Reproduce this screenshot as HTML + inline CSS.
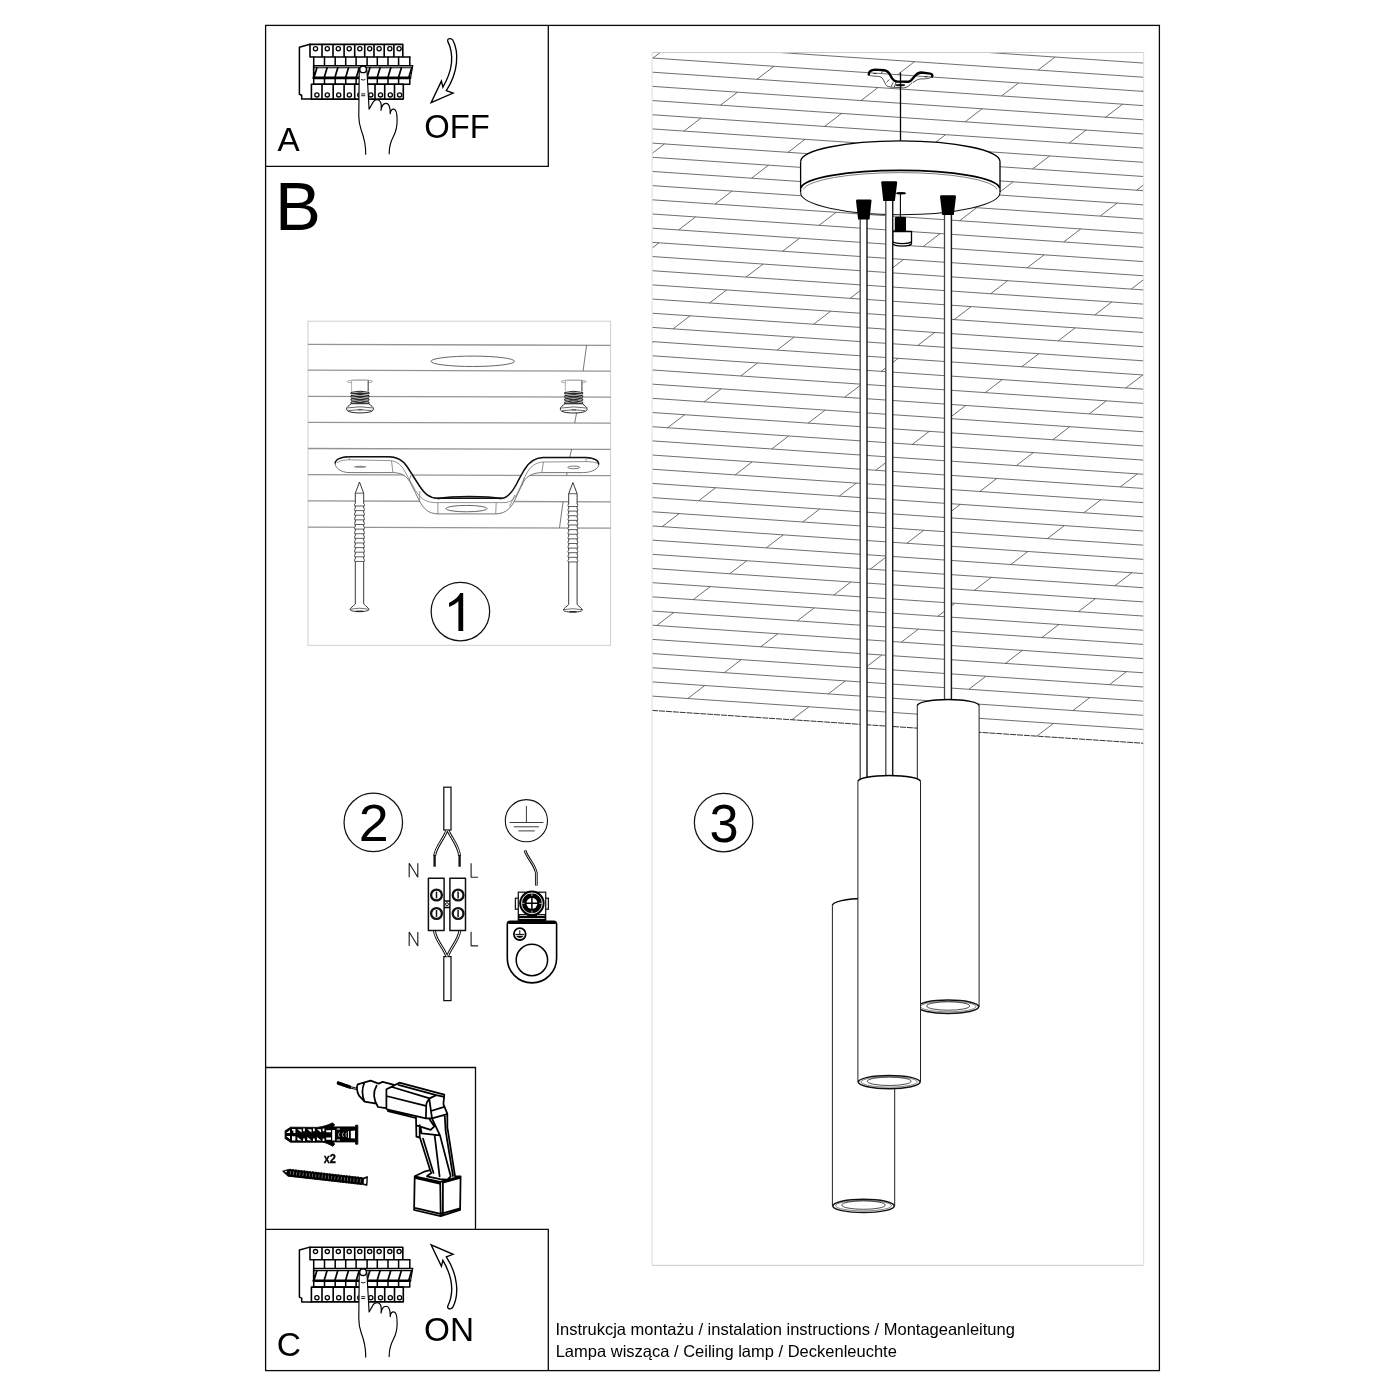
<!DOCTYPE html>
<html><head><meta charset="utf-8"><title>Instrukcja montażu</title>
<style>
html,body{margin:0;padding:0;background:#fff;}
body{width:1400px;height:1400px;overflow:hidden;font-family:"Liberation Sans",sans-serif;}
svg{display:block;filter:grayscale(1);}
</style></head><body>
<svg width="1400" height="1400" viewBox="0 0 1400 1400">
<rect width="1400" height="1400" fill="#fff"/>
<!-- 00_head.py -->
<rect x="265.6" y="25.4" width="893.8" height="1345.2" stroke="#0a0a0a" stroke-width="1.3" fill="none"/>
<path d="M548.3 25.4V166.3H265.6" stroke="#0a0a0a" stroke-width="1.3" fill="none"/>
<path d="M265.6 1067.5H475.5V1229.4" stroke="#0a0a0a" stroke-width="1.3" fill="none"/>
<path d="M265.6 1229.4H548.3V1370.6" stroke="#0a0a0a" stroke-width="1.3" fill="none"/>
<text x="277.4" y="151.3" font-size="34" font-family="Liberation Sans, sans-serif" fill="#000" textLength="22.2" lengthAdjust="spacingAndGlyphs">A</text>
<text x="424.2" y="137.9" font-size="33.4" font-family="Liberation Sans, sans-serif" fill="#000" textLength="65.6" lengthAdjust="spacingAndGlyphs">OFF</text>
<text x="275.1" y="229.7" font-size="68.8" font-family="Liberation Sans, sans-serif" fill="#000">B</text>
<text x="276.7" y="1356.4" font-size="33.6" font-family="Liberation Sans, sans-serif" fill="#000">C</text>
<text x="424.1" y="1340.7" font-size="34" font-family="Liberation Sans, sans-serif" fill="#000" textLength="50" lengthAdjust="spacingAndGlyphs">ON</text>
<text x="555.4" y="1335" font-size="16.5" font-family="Liberation Sans, sans-serif" fill="#000">Instrukcja montażu / instalation instructions / Montageanleitung</text>
<text x="555.7" y="1356.6" font-size="16.5" font-family="Liberation Sans, sans-serif" fill="#000">Lampa wisząca / Ceiling lamp / Deckenleuchte</text>
<circle cx="460.4" cy="611.6" r="29.25" stroke="#111" stroke-width="1.25" fill="none"/>
<circle cx="373.3" cy="822.4" r="29.25" stroke="#111" stroke-width="1.25" fill="none"/>
<circle cx="723.6" cy="822.6" r="29.25" stroke="#111" stroke-width="1.25" fill="none"/>
<path d="M463.2 630.9H458.4V601.2C455.8 603.5 452.6 605.5 449.1 606.9V602.7C454 600.4 458.4 596.8 460.2 592.9H463.2Z" fill="#000"/>
<text x="358.75" y="841.1" font-size="52.2" font-family="Liberation Sans, sans-serif" fill="#000" textLength="29.9" lengthAdjust="spacingAndGlyphs">2</text>
<text x="709.4" y="842.05" font-size="54.3" font-family="Liberation Sans, sans-serif" fill="#000" textLength="29.1" lengthAdjust="spacingAndGlyphs">3</text>
<!-- 10_panel3.py -->
<clipPath id="ceil"><polygon points="652.1,52.5 1143.7,52.5 1143.7,743.3 652.1,710.4"/></clipPath>
<path clip-path="url(#ceil)" d="M652.1 1.28L1143.7 34.71M652.1 15.46L1143.7 48.89M652.1 29.64L1143.7 63.07M652.1 43.82L1143.7 77.25M652.1 58.00L1143.7 91.43M652.1 72.18L1143.7 105.61M652.1 86.36L1143.7 119.79M652.1 100.54L1143.7 133.97M652.1 114.72L1143.7 148.15M652.1 128.90L1143.7 162.33M652.1 143.08L1143.7 176.51M652.1 157.26L1143.7 190.69M652.1 171.44L1143.7 204.87M652.1 185.62L1143.7 219.05M652.1 199.80L1143.7 233.23M652.1 213.98L1143.7 247.41M652.1 228.16L1143.7 261.59M652.1 242.34L1143.7 275.77M652.1 256.52L1143.7 289.95M652.1 270.70L1143.7 304.13M652.1 284.88L1143.7 318.31M652.1 299.06L1143.7 332.49M652.1 313.24L1143.7 346.67M652.1 327.42L1143.7 360.85M652.1 341.60L1143.7 375.03M652.1 355.78L1143.7 389.21M652.1 369.96L1143.7 403.39M652.1 384.14L1143.7 417.57M652.1 398.32L1143.7 431.75M652.1 412.50L1143.7 445.93M652.1 426.68L1143.7 460.11M652.1 440.86L1143.7 474.29M652.1 455.04L1143.7 488.47M652.1 469.22L1143.7 502.65M652.1 483.40L1143.7 516.83M652.1 497.58L1143.7 531.01M652.1 511.76L1143.7 545.19M652.1 525.94L1143.7 559.37M652.1 540.12L1143.7 573.55M652.1 554.30L1143.7 587.73M652.1 568.48L1143.7 601.91M652.1 582.66L1143.7 616.09M652.1 596.84L1143.7 630.27M652.1 611.02L1143.7 644.45M652.1 625.20L1143.7 658.63M652.1 639.38L1143.7 672.81M652.1 653.56L1143.7 686.99M652.1 667.74L1143.7 701.17M652.1 681.92L1143.7 715.35M652.1 696.10L1143.7 729.53M830.00 27.56L847.00 14.53M1074.60 44.19L1091.60 31.17M689.45 32.18L706.45 19.16M934.05 48.81L951.05 35.79M793.50 53.44L810.50 40.41M1038.10 70.07L1055.10 57.04M652.95 58.06L669.95 45.03M897.55 74.69L914.55 61.67M1142.15 91.32L1159.15 78.30M757.00 79.31L774.00 66.29M1001.60 95.95L1018.60 82.92M861.05 100.57L878.05 87.54M1105.65 117.20L1122.65 104.18M720.50 105.19L737.50 92.17M965.10 121.82L982.10 108.80M824.55 126.45L841.55 113.42M1069.15 143.08L1086.15 130.06M684.00 131.07L701.00 118.05M928.60 147.70L945.60 134.68M788.05 152.32L805.05 139.30M1032.65 168.96L1049.65 155.93M647.50 156.95L664.50 143.92M892.10 173.58L909.10 160.56M1136.70 190.21L1153.70 177.19M751.55 178.20L768.55 165.18M996.15 194.84L1013.15 181.81M855.60 199.46L872.60 186.43M1100.20 216.09L1117.20 203.07M715.05 204.08L732.05 191.06M959.65 220.71L976.65 207.69M819.10 225.34L836.10 212.31M1063.70 241.97L1080.70 228.94M678.55 229.96L695.55 216.93M923.15 246.59L940.15 233.57M782.60 251.21L799.60 238.19M1027.20 267.85L1044.20 254.82M642.05 255.84L659.05 242.81M886.65 272.47L903.65 259.45M1131.25 289.10L1148.25 276.08M746.10 277.09L763.10 264.07M990.70 293.72L1007.70 280.70M850.15 298.35L867.15 285.32M1094.75 314.98L1111.75 301.96M709.60 302.97L726.60 289.95M954.20 319.60L971.20 306.58M813.65 324.23L830.65 311.20M1058.25 340.86L1075.25 327.83M673.10 328.85L690.10 315.82M917.70 345.48L934.70 332.46M777.15 350.10L794.15 337.08M1021.75 366.74L1038.75 353.71M636.60 354.73L653.60 341.70M881.20 371.36L898.20 358.33M1125.80 387.99L1142.80 374.97M740.65 375.98L757.65 362.96M985.25 392.61L1002.25 379.59M844.70 397.24L861.70 384.21M1089.30 413.87L1106.30 400.85M704.15 401.86L721.15 388.84M948.75 418.49L965.75 405.47M808.20 423.11L825.20 410.09M1052.80 439.75L1069.80 426.72M667.65 427.74L684.65 414.71M912.25 444.37L929.25 431.35M771.70 448.99L788.70 435.97M1016.30 465.63L1033.30 452.60M875.75 470.25L892.75 457.22M1120.35 486.88L1137.35 473.86M735.20 474.87L752.20 461.85M979.80 491.50L996.80 478.48M839.25 496.13L856.25 483.10M1083.85 512.76L1100.85 499.73M698.70 500.75L715.70 487.72M943.30 517.38L960.30 504.36M802.75 522.00L819.75 508.98M1047.35 538.64L1064.35 525.61M662.20 526.63L679.20 513.60M906.80 543.26L923.80 530.24M766.25 547.88L783.25 534.86M1010.85 564.51L1027.85 551.49M870.30 569.14L887.30 556.11M1114.90 585.77L1131.90 572.75M729.75 573.76L746.75 560.74M974.35 590.39L991.35 577.37M833.80 595.02L850.80 581.99M1078.40 611.65L1095.40 598.62M693.25 599.64L710.25 586.61M937.85 616.27L954.85 603.25M797.30 620.89L814.30 607.87M1041.90 637.53L1058.90 624.50M656.75 625.52L673.75 612.49M901.35 642.15L918.35 629.12M760.80 646.77L777.80 633.75M1005.40 663.40L1022.40 650.38M864.85 668.03L881.85 655.00M1109.45 684.66L1126.45 671.64M724.30 672.65L741.30 659.63M968.90 689.28L985.90 676.26M828.35 693.90L845.35 680.88M1072.95 710.54L1089.95 697.51M687.80 698.53L704.80 685.50M932.40 715.16L949.40 702.14M791.85 719.78L808.85 706.76M1036.45 736.42L1053.45 723.39M651.30 724.41L668.30 711.38M895.90 741.04L912.90 728.01M1140.50 757.67L1157.50 744.65M755.35 745.66L772.35 732.64M999.95 762.29L1016.95 749.27" stroke="#4a4a4a" stroke-width="0.8" fill="none"/>
<path d="M652.1 710.4L1143.7 743.3" stroke="#333" stroke-width="1" stroke-dasharray="6 0.9" fill="none"/>
<path d="M652.1 52.5H1143.7M652.1 1265.3H1143.7" stroke="#cbcbcb" stroke-width="1" fill="none"/>
<path d="M652.1 52.5V1265.3M1143.7 52.5V1265.3" stroke="#dcdcdc" stroke-width="1" fill="none"/>
<!-- 20_lamp.py -->
<path d="M868.8 74.6C868.4 71.5 871.5 69.9 875 69.6L884.3 70.3C888 70.8 889.6 73.5 891 76.4C892.5 79.4 894 81.2 897 81.5L908.5 81.8C911 81.4 912.6 78.6 914.6 76.2C916.6 73.8 918.6 72.6 921.4 72.5L930.2 73.6C932.4 74 932.8 75.4 932 76.6" stroke="#000" stroke-width="2.4" fill="none" stroke-linecap="round" stroke-linejoin="round"/>
<path d="M868.8 74.6C869.6 75.8 872 76 878.6 76.4C882.6 76.6 883.6 80.4 885.7 84.6C887 86.6 889 86.9 892 87.2L903.6 87.9C907 87.6 909.6 85.7 912.1 82.6M932 76.6C930.6 78.4 926 79 921.4 78.9C918 78.8 915.8 80.6 913 82.6M884.3 70.3L881 73.2M889.4 79.6L886.5 82.2M893.2 82.4L891 86.8M896.4 81.4L894.3 87" stroke="#222" stroke-width="0.8" fill="none"/>
<ellipse cx="900.3" cy="85.2" rx="4.8" ry="1.1" fill="#111"/>
<ellipse cx="875" cy="73.5" rx="1.9" ry="0.5" fill="#222"/><ellipse cx="926" cy="76.7" rx="1.9" ry="0.5" fill="#222"/>
<path d="M900.5 72.5V141.2" stroke="#000" stroke-width="1.3"/>
<path d="M800.6 161.4A99.7 20.6 0 0 1 1000 161.4V192.5A99.7 22.2 0 0 1 800.6 192.5Z" fill="#fff" stroke="none"/>
<path d="M800.6 161.6A99.7 20.7 0 0 1 1000 161.6" stroke="#000" stroke-width="1.4" fill="none"/>
<path d="M800.6 161.4V192.6M1000 161.4V192.6" stroke="#000" stroke-width="1.3" fill="none"/>
<path d="M800.6 192.5A99.7 22.2 0 0 0 1000 192.5" stroke="#111" stroke-width="1.1" fill="none"/>
<path d="M800.9 187.9A99.6 18.7 0 0 1 999.7 187.9" stroke="#000" stroke-width="1.7" fill="none"/>
<path d="M803.6 189.3A97 18.1 0 0 1 997 189.3" stroke="#444" stroke-width="0.7" fill="none"/>
<path d="M892.7 231.5H911.5V243.5A9.4 2.6 0 0 1 892.7 243.5Z" fill="#fff" stroke="#000" stroke-width="1.3"/>
<path d="M892.7 241.2A9.4 2.4 0 0 0 911.5 241.2" fill="none" stroke="#000" stroke-width="1.2"/>
<rect x="894.8" y="217" width="11.2" height="14.8" rx="1" fill="#000"/>
<path d="M900.4 193.5V217" stroke="#000" stroke-width="1.1"/>
<ellipse cx="901" cy="193.2" rx="5" ry="1.2" fill="#000"/>
<rect x="944.5" y="205" width="6.899999999999977" height="499" fill="#fff"/><path d="M944.5 205V704" stroke="#444" stroke-width="1.3" fill="none"/><path d="M951.4 205V704" stroke="#1a1a1a" stroke-width="1.45" fill="none"/>
<rect x="860.2" y="210" width="6.7999999999999545" height="571" fill="#fff"/><path d="M860.2 210V781" stroke="#444" stroke-width="1.3" fill="none"/><path d="M867 210V781" stroke="#1a1a1a" stroke-width="1.45" fill="none"/>
<path d="M917.3 705.7A30.900000000000034 6.100000000000023 0 0 1 979.1 705.7V1006.8A30.900000000000034 6.8 0 0 1 917.3 1006.8Z" fill="#fff" stroke="none"/><path d="M917.3 705.7V1006.8M979.1 705.7V1006.8" stroke="#222" stroke-width="1" fill="none"/><path d="M917.3 705.7A30.900000000000034 6.100000000000023 0 0 1 979.1 705.7" stroke="#000" stroke-width="1.5" fill="none"/><ellipse cx="948.2" cy="1006.8" rx="30.500000000000036" ry="6.7" stroke="#111" stroke-width="1.5" fill="#fff"/><ellipse cx="948.2" cy="1006.5999999999999" rx="27.700000000000035" ry="5.2" stroke="#333" stroke-width="0.6" fill="none"/><ellipse cx="948.2" cy="1006.0" rx="21.500000000000036" ry="4.2" stroke="#222" stroke-width="0.8" fill="none"/>
<path d="M832.4 905.5A31.150000000000034 6.899999999999977 0 0 1 894.7 905.5V1205.9A31.150000000000034 6.8 0 0 1 832.4 1205.9Z" fill="#fff" stroke="none"/><path d="M832.4 905.5V1205.9M894.7 905.5V1205.9" stroke="#222" stroke-width="1" fill="none"/><path d="M832.4 905.5A31.150000000000034 6.899999999999977 0 0 1 894.7 905.5" stroke="#000" stroke-width="1.5" fill="none"/><ellipse cx="863.55" cy="1205.9" rx="30.750000000000036" ry="6.7" stroke="#111" stroke-width="1.5" fill="#fff"/><ellipse cx="863.55" cy="1205.7" rx="27.950000000000035" ry="5.2" stroke="#333" stroke-width="0.6" fill="none"/><ellipse cx="863.55" cy="1205.1000000000001" rx="21.750000000000036" ry="4.2" stroke="#222" stroke-width="0.8" fill="none"/>
<rect x="885.8" y="195" width="6.900000000000091" height="584" fill="#fff"/><path d="M885.8 195V779" stroke="#444" stroke-width="1.3" fill="none"/><path d="M892.7 195V779" stroke="#1a1a1a" stroke-width="1.45" fill="none"/>
<path d="M857.9 781.6A31.30000000000001 6.2000000000000455 0 0 1 920.5 781.6V1082.1A31.30000000000001 6.8 0 0 1 857.9 1082.1Z" fill="#fff" stroke="none"/><path d="M857.9 781.6V1082.1M920.5 781.6V1082.1" stroke="#222" stroke-width="1" fill="none"/><path d="M857.9 781.6A31.30000000000001 6.2000000000000455 0 0 1 920.5 781.6" stroke="#000" stroke-width="1.5" fill="none"/><ellipse cx="889.2" cy="1082.1" rx="30.900000000000013" ry="6.7" stroke="#111" stroke-width="1.5" fill="#fff"/><ellipse cx="889.2" cy="1081.8999999999999" rx="28.100000000000012" ry="5.2" stroke="#333" stroke-width="0.6" fill="none"/><ellipse cx="889.2" cy="1081.3" rx="21.900000000000013" ry="4.2" stroke="#222" stroke-width="0.8" fill="none"/>
<path d="M856 200.7Q856 199.5 857.5 199.5H870.0Q871.5 199.5 871.5 200.7L869.5 219.5H858.1Z" fill="#000"/>
<path d="M881.2 182.5Q881.2 181.3 882.7 181.3H895.7Q897.2 181.3 897.2 182.5L894.9 201H883.3Z" fill="#000"/>
<path d="M940 196.39999999999998Q940 195.2 941.5 195.2H954.5Q956 195.2 956 196.39999999999998L953.8 215H942.2Z" fill="#000"/>
<!-- 30_breaker.py -->
<g id="brk"><path d="M310 44.3L299.4 47.2L299.4 94.3L301.7 95.3V99.1H311.4" stroke="#000" fill="none" stroke-linejoin="round" stroke-linecap="round" stroke-width="1.5"/><path d="M310 44.4H402.8M310 57H409.8M310 44.4V57M322 44.4V57M333 44.4V57M344.1 44.4V57M354.7 44.4V57M364.7 44.4V57M374 44.4V57M384.2 44.4V57M393.9 44.4V57M402.8 44.4V57" stroke="#000" fill="none" stroke-linejoin="round" stroke-linecap="round" stroke-width="1.6"/><circle cx="315.5" cy="48.8" r="2.1" stroke="#000" fill="none" stroke-linejoin="round" stroke-linecap="round" stroke-width="1.3"/><circle cx="327.3" cy="48.8" r="2.1" stroke="#000" fill="none" stroke-linejoin="round" stroke-linecap="round" stroke-width="1.3"/><circle cx="338.3" cy="48.8" r="2.1" stroke="#000" fill="none" stroke-linejoin="round" stroke-linecap="round" stroke-width="1.3"/><circle cx="349.2" cy="48.8" r="2.1" stroke="#000" fill="none" stroke-linejoin="round" stroke-linecap="round" stroke-width="1.3"/><circle cx="359.8" cy="48.8" r="2.1" stroke="#000" fill="none" stroke-linejoin="round" stroke-linecap="round" stroke-width="1.3"/><circle cx="369.7" cy="48.8" r="2.1" stroke="#000" fill="none" stroke-linejoin="round" stroke-linecap="round" stroke-width="1.3"/><circle cx="379.1" cy="48.8" r="2.1" stroke="#000" fill="none" stroke-linejoin="round" stroke-linecap="round" stroke-width="1.3"/><circle cx="389.8" cy="48.8" r="2.1" stroke="#000" fill="none" stroke-linejoin="round" stroke-linecap="round" stroke-width="1.3"/><circle cx="399.1" cy="48.8" r="2.1" stroke="#000" fill="none" stroke-linejoin="round" stroke-linecap="round" stroke-width="1.3"/><path d="M313.7 65.7H412.6M313.7 57V65.7M324.5 57V65.7M335.2 57V65.7M345.7 57V65.7M356.1 57V65.7M367.1 57V65.7M377.3 57V65.7M388 57V65.7M398.6 57V65.7M409.8 57V65.7" stroke="#000" fill="none" stroke-linejoin="round" stroke-linecap="round" stroke-width="1.5"/><path d="M313.7 67.8H412.4M412.8 65.7L410.6 77.8" stroke="#000" fill="none" stroke-linejoin="round" stroke-linecap="round" stroke-width="1.1"/><path d="M313.7 77.9H410" stroke="#000" fill="none" stroke-linejoin="round" stroke-linecap="round" stroke-width="2.6"/><path d="M316.9 67.8L314.09999999999997 77.2M327.1 67.8L324.3 77.2M337.8 67.8L335.0 77.2M348.5 67.8L345.7 77.2M359.2 67.8L356.4 77.2M369.9 67.8L367.09999999999997 77.2M380.1 67.8L377.3 77.2M390.8 67.8L388.0 77.2M401.4 67.8L398.59999999999997 77.2M411.7 67.8L408.9 77.2M313.7 65.7V77.9" stroke="#000" fill="none" stroke-linejoin="round" stroke-linecap="round" stroke-width="1.7"/><path d="M313.7 84.3H409.8M313.7 78V84.3M324.5 78V84.3M335.2 78V84.3M345.7 78V84.3M356.1 78V84.3M367.1 78V84.3M377.3 78V84.3M388 78V84.3M398.6 78V84.3M409.8 78V84.3" stroke="#000" fill="none" stroke-linejoin="round" stroke-linecap="round" stroke-width="1.5"/><path d="M311.4 99.1H403.3M311.4 84.3H403.3M311.4 84.3V99.1M322 84.3V99.1M333.2 84.3V99.1M344.1 84.3V99.1M354.7 84.3V99.1M365.2 84.3V99.1M375 84.3V99.1M384.7 84.3V99.1M394.5 84.3V99.1M403.3 84.3V99.1" stroke="#000" fill="none" stroke-linejoin="round" stroke-linecap="round" stroke-width="1.6"/><circle cx="316.9" cy="94.9" r="2.1" stroke="#000" fill="none" stroke-linejoin="round" stroke-linecap="round" stroke-width="1.3"/><circle cx="327.3" cy="94.9" r="2.1" stroke="#000" fill="none" stroke-linejoin="round" stroke-linecap="round" stroke-width="1.3"/><circle cx="338.7" cy="94.9" r="2.1" stroke="#000" fill="none" stroke-linejoin="round" stroke-linecap="round" stroke-width="1.3"/><circle cx="349.4" cy="94.9" r="2.1" stroke="#000" fill="none" stroke-linejoin="round" stroke-linecap="round" stroke-width="1.3"/><circle cx="359.8" cy="94.9" r="2.1" stroke="#000" fill="none" stroke-linejoin="round" stroke-linecap="round" stroke-width="1.3"/><circle cx="370.8" cy="94.9" r="2.1" stroke="#000" fill="none" stroke-linejoin="round" stroke-linecap="round" stroke-width="1.3"/><circle cx="380.5" cy="94.9" r="2.1" stroke="#000" fill="none" stroke-linejoin="round" stroke-linecap="round" stroke-width="1.3"/><circle cx="390.3" cy="94.9" r="2.1" stroke="#000" fill="none" stroke-linejoin="round" stroke-linecap="round" stroke-width="1.3"/><circle cx="399.6" cy="94.9" r="2.1" stroke="#000" fill="none" stroke-linejoin="round" stroke-linecap="round" stroke-width="1.3"/><path d="M365.7 154.3C365.9 146 364.2 138 361.2 130C359.2 124.5 358.8 121 358.8 116L359.2 71.5C359.4 68.3 361 66.3 363.1 66.3C365.3 66.3 366.9 68.3 367 71.5L369.1 109.2L373.4 101.6C375.2 99.2 379.2 99 380.6 102.2C381.4 104.2 381.3 107.6 381 110.4C381.6 106.2 383.4 103.4 386 103.4C389 103.4 390.4 107.4 390.2 113.8C390.6 110.6 392 109 393.7 109.1C396.2 109.3 397.1 113.6 397.1 119.4C397.3 126 396 131.5 393.4 136.5C390.6 141.8 389 146.5 389.2 153.8L389.2 156H365.7Z" fill="#fff" stroke="none"/><path d="M365.7 154.3C365.9 146 364.2 138 361.2 130C359.2 124.5 358.8 121 358.8 116L359.2 71.5C359.4 68.3 361 66.3 363.1 66.3C365.3 66.3 366.9 68.3 367 71.5L369.1 109.2L373.4 101.6C375.2 99.2 379.2 99 380.6 102.2C381.4 104.2 381.3 107.6 381 110.4C381.6 106.2 383.4 103.4 386 103.4C389 103.4 390.4 107.4 390.2 113.8C390.6 110.6 392 109 393.7 109.1C396.2 109.3 397.1 113.6 397.1 119.4C397.3 126 396 131.5 393.4 136.5C390.6 141.8 389 146.5 389.2 153.8" stroke="#000" fill="none" stroke-linejoin="round" stroke-linecap="round" stroke-width="1.15"/><circle cx="363.1" cy="69.4" r="3.3" fill="#fff" stroke="#000" stroke-width="1.3"/><path d="M361.3 79.6Q363.2 80.9 365.1 79.6M361.6 93.9H364.8M361.6 95.7H364.8" stroke="#000" fill="none" stroke-linejoin="round" stroke-linecap="round" stroke-width="0.9"/></g>
<use href="#brk" transform="translate(0,1202.8)"/>
<path id="arw" d="M447.7 41.1C447.2 39.2 449 38.4 450.4 38.6C451.8 38.8 452.5 39.4 452.9 40.3C459 52 458.5 72 446.3 90.6L453.1 93.1L431.1 102.6L441.4 81.1L442.9 87.1C454 68 453 52 447.7 41.1Z" fill="#fff" stroke="#000" stroke-width="1.35" stroke-linejoin="miter" stroke-miterlimit="6"/>
<use href="#arw" transform="translate(0,1347.4) scale(1,-1)"/>
<!-- 40_sec1.py -->
<rect x="308.0" y="321.2" width="302.6" height="324.09999999999997" fill="none" stroke="#cfcfcf" stroke-width="1"/>
<path d="M308.0 344.4L610.6 345.29999999999995M308.0 370.2L610.6 371.09999999999997M308.0 396.3L610.6 397.2M308.0 422.3L610.6 423.2M308.0 448.5L610.6 449.4M308.0 474.7L610.6 475.59999999999997M308.0 500.9L610.6 501.79999999999995M308.0 527.2L610.6 528.1" stroke="#949494" stroke-width="1.3" fill="none"/>
<path d="M586.6 345.2L583.1 370.8M576.6 412.8L574.7 423M571.6 449L569.8 457M567.7 467L566.7 475.4M563.1 501.6L559.5 527.8" stroke="#555" stroke-width="0.8" fill="none"/>
<ellipse cx="472.7" cy="361.3" rx="41.8" ry="5.2" fill="#fff" stroke="#555" stroke-width="0.9"/>
<ellipse cx="360.0" cy="381.5" rx="12.7" ry="1.6" fill="#fff" stroke="#8a8a8a" stroke-width="0.7"/><rect x="351.6" y="380.3" width="16.8" height="11" fill="#fff" stroke="none"/><path d="M351.6 391.3V380.3H368.4" fill="none" stroke="#9a9a9a" stroke-width="0.8"/><path d="M368.2 380.3V391.3" fill="none" stroke="#555" stroke-width="1.2"/><path d="M351.0 392.40000000000003Q360.0 390.00000000000006 369.0 392.40000000000003V393.90000000000003Q360.0 391.70000000000005 351.0 393.90000000000003Z" fill="#fff" stroke="#111" stroke-width="0.95"/><path d="M355.5 393.50000000000006H364.5" stroke="#222" stroke-width="1"/><path d="M351.0 395.6Q360.0 393.20000000000005 369.0 395.6V397.1Q360.0 394.90000000000003 351.0 397.1Z" fill="#fff" stroke="#111" stroke-width="0.95"/><path d="M355.5 396.70000000000005H364.5" stroke="#222" stroke-width="1"/><path d="M351.0 398.8Q360.0 396.40000000000003 369.0 398.8V400.3Q360.0 398.1 351.0 400.3Z" fill="#fff" stroke="#111" stroke-width="0.95"/><path d="M355.5 399.90000000000003H364.5" stroke="#222" stroke-width="1"/><path d="M351.0 402.00000000000006Q360.0 399.6000000000001 369.0 402.00000000000006V403.50000000000006Q360.0 401.30000000000007 351.0 403.50000000000006Z" fill="#fff" stroke="#111" stroke-width="0.95"/><path d="M355.5 403.1000000000001H364.5" stroke="#222" stroke-width="1"/><path d="M351.2 403.7C349.0 405.7 346.4 406.9 346.6 409.2C346.8 412.09999999999997 354.0 412.9 360.0 412.9C366.0 412.9 373.2 412.09999999999997 373.4 409.2C373.6 406.9 371.0 405.7 368.8 403.7Z" fill="#fff" stroke="#222" stroke-width="1"/><path d="M347.6 407.9Q360.0 405.7 372.4 407.9M348.4 410.59999999999997Q360.0 408.7 371.6 410.59999999999997" stroke="#444" stroke-width="0.8" fill="none"/><path d="M358.0 409.8H362.4" stroke="#333" stroke-width="0.9"/>
<ellipse cx="573.7" cy="381.59999999999997" rx="12.7" ry="1.6" fill="#fff" stroke="#8a8a8a" stroke-width="0.7"/><rect x="565.3000000000001" y="380.4" width="16.8" height="11" fill="#fff" stroke="none"/><path d="M565.3000000000001 391.4V380.4H582.1" fill="none" stroke="#9a9a9a" stroke-width="0.8"/><path d="M581.9000000000001 380.4V391.4" fill="none" stroke="#555" stroke-width="1.2"/><path d="M564.7 392.5Q573.7 390.1 582.7 392.5V394.0Q573.7 391.8 564.7 394.0Z" fill="#fff" stroke="#111" stroke-width="0.95"/><path d="M569.2 393.6H578.2" stroke="#222" stroke-width="1"/><path d="M564.7 395.7Q573.7 393.3 582.7 395.7V397.2Q573.7 395.0 564.7 397.2Z" fill="#fff" stroke="#111" stroke-width="0.95"/><path d="M569.2 396.8H578.2" stroke="#222" stroke-width="1"/><path d="M564.7 398.9Q573.7 396.5 582.7 398.9V400.4Q573.7 398.2 564.7 400.4Z" fill="#fff" stroke="#111" stroke-width="0.95"/><path d="M569.2 400.0H578.2" stroke="#222" stroke-width="1"/><path d="M564.7 402.1Q573.7 399.70000000000005 582.7 402.1V403.6Q573.7 401.40000000000003 564.7 403.6Z" fill="#fff" stroke="#111" stroke-width="0.95"/><path d="M569.2 403.20000000000005H578.2" stroke="#222" stroke-width="1"/><path d="M564.9000000000001 403.79999999999995C562.7 405.79999999999995 560.1 406.99999999999994 560.3000000000001 409.29999999999995C560.5 412.19999999999993 567.7 412.99999999999994 573.7 412.99999999999994C579.7 412.99999999999994 586.9000000000001 412.19999999999993 587.1 409.29999999999995C587.3000000000001 406.99999999999994 584.7 405.79999999999995 582.5 403.79999999999995Z" fill="#fff" stroke="#222" stroke-width="1"/><path d="M561.3000000000001 407.99999999999994Q573.7 405.79999999999995 586.1 407.99999999999994M562.1 410.69999999999993Q573.7 408.79999999999995 585.3000000000001 410.69999999999993" stroke="#444" stroke-width="0.8" fill="none"/><path d="M571.7 409.9H576.1" stroke="#333" stroke-width="0.9"/>
<path d="M359.5 482.0L355.3 493.2V604.0C353.5 606.0 350.1 608.0 349.9 609.6C351.5 612.4 367.5 612.4 369.1 609.6C368.9 608.0 365.5 606.0 363.7 604.0V493.2Z" fill="#fff" stroke="#222" stroke-width="0.9"/><path d="M355.3 493.2H363.7" stroke="#333" stroke-width="0.8"/><path d="M355.3 503.4Q353.9 504.59999999999997 354.9 506.0H364.1Q365.1 504.59999999999997 363.7 503.4" fill="#fff" stroke="#333" stroke-width="0.8"/><path d="M355.3 508.02Q353.9 509.21999999999997 354.9 510.62H364.1Q365.1 509.21999999999997 363.7 508.02" fill="#fff" stroke="#333" stroke-width="0.8"/><path d="M355.3 512.64Q353.9 513.84 354.9 515.24H364.1Q365.1 513.84 363.7 512.64" fill="#fff" stroke="#333" stroke-width="0.8"/><path d="M355.3 517.26Q353.9 518.46 354.9 519.86H364.1Q365.1 518.46 363.7 517.26" fill="#fff" stroke="#333" stroke-width="0.8"/><path d="M355.3 521.88Q353.9 523.08 354.9 524.48H364.1Q365.1 523.08 363.7 521.88" fill="#fff" stroke="#333" stroke-width="0.8"/><path d="M355.3 526.5Q353.9 527.7 354.9 529.1H364.1Q365.1 527.7 363.7 526.5" fill="#fff" stroke="#333" stroke-width="0.8"/><path d="M355.3 531.12Q353.9 532.32 354.9 533.72H364.1Q365.1 532.32 363.7 531.12" fill="#fff" stroke="#333" stroke-width="0.8"/><path d="M355.3 535.74Q353.9 536.94 354.9 538.34H364.1Q365.1 536.94 363.7 535.74" fill="#fff" stroke="#333" stroke-width="0.8"/><path d="M355.3 540.36Q353.9 541.5600000000001 354.9 542.96H364.1Q365.1 541.5600000000001 363.7 540.36" fill="#fff" stroke="#333" stroke-width="0.8"/><path d="M355.3 544.98Q353.9 546.1800000000001 354.9 547.58H364.1Q365.1 546.1800000000001 363.7 544.98" fill="#fff" stroke="#333" stroke-width="0.8"/><path d="M355.3 549.6Q353.9 550.8000000000001 354.9 552.2H364.1Q365.1 550.8000000000001 363.7 549.6" fill="#fff" stroke="#333" stroke-width="0.8"/><path d="M355.3 554.22Q353.9 555.4200000000001 354.9 556.82H364.1Q365.1 555.4200000000001 363.7 554.22" fill="#fff" stroke="#333" stroke-width="0.8"/><path d="M355.3 558.8399999999999Q353.9 560.04 354.9 561.4399999999999H364.1Q365.1 560.04 363.7 558.8399999999999" fill="#fff" stroke="#333" stroke-width="0.8"/><path d="M350.3 609.2Q359.5 607.2 368.7 609.2" stroke="#333" stroke-width="0.7" fill="none"/><path d="M355.9 611.2H363.1" stroke="#111" stroke-width="1.1"/>
<path d="M572.9 482.5L568.6999999999999 493.7V604.5C566.9 606.5 563.5 608.5 563.3 610.1C564.9 612.9 580.9 612.9 582.5 610.1C582.3 608.5 578.9 606.5 577.1 604.5V493.7Z" fill="#fff" stroke="#222" stroke-width="0.9"/><path d="M568.6999999999999 493.7H577.1" stroke="#333" stroke-width="0.8"/><path d="M568.6999999999999 503.9Q567.3 505.09999999999997 568.3 506.5H577.5Q578.5 505.09999999999997 577.1 503.9" fill="#fff" stroke="#333" stroke-width="0.8"/><path d="M568.6999999999999 508.52Q567.3 509.71999999999997 568.3 511.12H577.5Q578.5 509.71999999999997 577.1 508.52" fill="#fff" stroke="#333" stroke-width="0.8"/><path d="M568.6999999999999 513.14Q567.3 514.34 568.3 515.74H577.5Q578.5 514.34 577.1 513.14" fill="#fff" stroke="#333" stroke-width="0.8"/><path d="M568.6999999999999 517.76Q567.3 518.96 568.3 520.36H577.5Q578.5 518.96 577.1 517.76" fill="#fff" stroke="#333" stroke-width="0.8"/><path d="M568.6999999999999 522.38Q567.3 523.58 568.3 524.98H577.5Q578.5 523.58 577.1 522.38" fill="#fff" stroke="#333" stroke-width="0.8"/><path d="M568.6999999999999 527.0Q567.3 528.2 568.3 529.6H577.5Q578.5 528.2 577.1 527.0" fill="#fff" stroke="#333" stroke-width="0.8"/><path d="M568.6999999999999 531.62Q567.3 532.82 568.3 534.22H577.5Q578.5 532.82 577.1 531.62" fill="#fff" stroke="#333" stroke-width="0.8"/><path d="M568.6999999999999 536.24Q567.3 537.44 568.3 538.84H577.5Q578.5 537.44 577.1 536.24" fill="#fff" stroke="#333" stroke-width="0.8"/><path d="M568.6999999999999 540.86Q567.3 542.0600000000001 568.3 543.46H577.5Q578.5 542.0600000000001 577.1 540.86" fill="#fff" stroke="#333" stroke-width="0.8"/><path d="M568.6999999999999 545.48Q567.3 546.6800000000001 568.3 548.08H577.5Q578.5 546.6800000000001 577.1 545.48" fill="#fff" stroke="#333" stroke-width="0.8"/><path d="M568.6999999999999 550.1Q567.3 551.3000000000001 568.3 552.7H577.5Q578.5 551.3000000000001 577.1 550.1" fill="#fff" stroke="#333" stroke-width="0.8"/><path d="M568.6999999999999 554.72Q567.3 555.9200000000001 568.3 557.32H577.5Q578.5 555.9200000000001 577.1 554.72" fill="#fff" stroke="#333" stroke-width="0.8"/><path d="M568.6999999999999 559.3399999999999Q567.3 560.54 568.3 561.9399999999999H577.5Q578.5 560.54 577.1 559.3399999999999" fill="#fff" stroke="#333" stroke-width="0.8"/><path d="M563.6999999999999 609.7Q572.9 607.7 582.1 609.7" stroke="#333" stroke-width="0.7" fill="none"/><path d="M569.3 611.7H576.5" stroke="#111" stroke-width="1.1"/>
<path d="M335.2 463.4C335.2 459.4 341 456.9 349 456.7L389 456.7C397.5 456.9 402.5 459.5 407 466.5L419.5 486C424.5 493.5 429 498 437.5 498.3L501.5 498.3C508.5 498 513.5 490.5 518.2 480.7L524.5 469.5C529.5 461.5 535 457.8 543 457.6L585.7 457.6C593.5 458 598.7 460.5 598.7 464.5C598.7 469 591.5 472.4 583.5 472.6L541.8 472.6C533.5 472.8 527.5 475.5 523.6 481.5L516.2 497C512.8 505 508 513.7 495.7 513.9L438 513.9C428 513.6 423.5 508.5 419.6 501.1L410 482C406 475.5 401.5 472.8 392.9 472.6L349 472.6C341 472.4 335.2 468 335.2 463.4Z" fill="#fff" stroke="#666" stroke-width="0.9"/>
<path d="M335.2 463.4C335.2 459.4 341 456.9 349 456.7L389 456.7C397.5 456.9 402.5 459.5 407 466.5L419.5 486C424.5 493.5 429 498 437.5 498.3L501.5 498.3C508.5 498 513.5 490.5 518.2 480.7L524.5 469.5C529.5 461.5 535 457.8 543 457.6L585.7 457.6C593.5 458 598.7 460.5 598.7 464.5" fill="none" stroke="#111" stroke-width="1.5"/>
<path d="M337.2 462.6C340 460.6 344 459.9 349.5 459.8L390.5 460.6C396 461 400.5 464 404 470L415.5 490.5C420 498 425.5 502.2 434 502.6L505 502.6C511 502.2 515 498.5 518.5 491L526 474.5C530 466.5 535.5 462.5 543 462L585 461.6C590.5 461.6 595 462.2 597.5 463.4M349 456.7L349.5 459.8M391.5 460.8L392.9 472.6M411.5 474L409 480.5M419.8 491L419.6 501.1M437.8 502.6L438 513.9M496.2 502.6L495.7 513.9M514.8 495L509.5 506.5M524.2 477.6L522 485.5M543.4 462L541.8 472.6M586.2 457.8L586 461.6" fill="none" stroke="#777" stroke-width="0.8"/>
<path d="M437.5 498.6C452 495.8 487 495.8 501.5 498.6" fill="none" stroke="#111" stroke-width="1.6"/>
<ellipse cx="360.2" cy="466.7" rx="6.2" ry="1" fill="#888"/>
<ellipse cx="573.8" cy="467.4" rx="6" ry="1.3" fill="#fff" stroke="#555" stroke-width="0.8"/>
<ellipse cx="466.5" cy="508.6" rx="20.5" ry="3.2" fill="#fff" stroke="#555" stroke-width="0.9"/>
<!-- 50_sec2.py -->
<rect x="443.8" y="787.2" width="7.2" height="42.8" fill="#fff" stroke="#111" stroke-width="1.25"/>
<rect x="443.8" y="956.6" width="7.2" height="44" fill="#fff" stroke="#111" stroke-width="1.25"/>
<path d="M446.6 830.6C444 839 436 846 434.6 856M448 830.6C452 839 458.6 846 459.6 856" stroke="#111" stroke-width="2.9" fill="none"/>
<path d="M446.6 830.6C444 839 436 846 434.6 856M448 830.6C452 839 458.6 846 459.6 856" stroke="#fff" stroke-width="1.0" fill="none"/>
<path d="M434.6 855V866.8M459.6 855V866.8" stroke="#111" stroke-width="2.3" fill="none"/>
<path d="M434.4 930.6C435.4 940 444 948 446.8 956.4M459.8 930.6C458.8 940 450.4 948 447.6 956.4" stroke="#111" stroke-width="2.9" fill="none"/>
<path d="M434.4 930.6C435.4 940 444 948 446.8 956.4M459.8 930.6C458.8 940 450.4 948 447.6 956.4" stroke="#fff" stroke-width="1.0" fill="none"/>
<rect x="428.4" y="878.2" width="15.7" height="52.3" fill="#fff" stroke="#111" fill="none" stroke-linejoin="round" stroke-width="1.5"/>
<rect x="449.9" y="878.2" width="15.6" height="52.3" fill="#fff" stroke="#111" fill="none" stroke-linejoin="round" stroke-width="1.5"/>
<path d="M444.1 901.1H449.9M444.1 907.4H449.9" stroke="#000" stroke-width="1.5" fill="none"/>
<circle cx="446.95" cy="904.2" r="1.5" stroke="#111" fill="none" stroke-linejoin="round" stroke-width="1"/>
<circle cx="436.5" cy="895" r="5.4" fill="#fff" stroke="#111" stroke-width="2.3"/>
<path d="M436.5 891.6V898.4" stroke="#111" stroke-width="1.5"/>
<circle cx="458.1" cy="895" r="5.4" fill="#fff" stroke="#111" stroke-width="2.3"/>
<path d="M458.1 891.6V898.4" stroke="#111" stroke-width="1.5"/>
<circle cx="436.5" cy="913.5" r="5.4" fill="#fff" stroke="#111" stroke-width="2.3"/>
<path d="M436.5 910.1V916.9" stroke="#111" stroke-width="1.5"/>
<circle cx="458.1" cy="913.5" r="5.4" fill="#fff" stroke="#111" stroke-width="2.3"/>
<path d="M458.1 910.1V916.9" stroke="#111" stroke-width="1.5"/>
<path d="M409.2 877.3V863.3L417.8 877.3V863.3" stroke="#222" stroke-width="1.15" fill="none" stroke-linejoin="bevel"/>
<path d="M409.2 946V932L417.8 946V932" stroke="#222" stroke-width="1.15" fill="none" stroke-linejoin="bevel"/>
<path d="M471.1 863.2V877.2H478.1" stroke="#222" stroke-width="1.15" fill="none" stroke-linejoin="bevel"/>
<path d="M471.1 931.8V945.8H478.1" stroke="#222" stroke-width="1.15" fill="none" stroke-linejoin="bevel"/>
<circle cx="526.4" cy="820.7" r="21.1" stroke="#111" fill="none" stroke-linejoin="round" stroke-width="1.1"/>
<path d="M526.4 805.9V822.5M509.5 822.5H543.4M513.9 826.8H538.9M518.4 830.9H534.8" stroke="#333" stroke-width="0.95" fill="none"/>
<path d="M525 850.4C527 858 534.8 864 536.3 873V885.6" stroke="#000" stroke-width="2.7" fill="none"/>
<path d="M525 850.4C527 858 534.8 864 536.3 873V885" stroke="#fff" stroke-width="0.85" fill="none"/>
<path d="M507.3 924.4Q507.3 921.4 510.3 921.4H553.5Q556.6 921.4 556.6 924.4V958.2A24.65 24.65 0 0 1 507.3 958.2Z" fill="#fff" stroke="#000" stroke-width="1.6"/>
<path d="M508.4 921.6H555.6V924H508.4Z" fill="#000"/>
<circle cx="531.9" cy="960" r="15.7" fill="#fff" stroke="#000" stroke-width="1.5"/>
<circle cx="519.8" cy="934.1" r="5.9" fill="#fff" stroke="#000" stroke-width="1.8"/>
<path d="M519.8 930.2V934.4M515.4 934.4H524.2" stroke="#000" stroke-width="1" fill="none"/>
<path d="M516 935.8H523.6Q522.6 937.9 519.8 937.9Q517 937.9 516 935.8Z" fill="#000"/>
<rect x="515.4" y="898.2" width="33" height="11" fill="#fff" stroke="#111" stroke-width="1.25"/>
<rect x="518.3" y="892.2" width="27.4" height="28.8" fill="#fff" stroke="#111" stroke-width="1.25"/>
<rect x="518.3" y="914" width="27.4" height="7.4" fill="#000"/>
<path d="M519.6 915.4H527.2M537 915.4H544.6M519.4 918.5H544.6" stroke="#fff" stroke-width="0.8"/>
<circle cx="531.9" cy="903.3" r="12.7" fill="#000"/>
<circle cx="531.9" cy="903.3" r="10.4" fill="none" stroke="#fff" stroke-width="0.9"/>
<circle cx="531.9" cy="903.3" r="5.5" fill="#fff"/>
<path d="M531.9 896.6V910M525.2 903.3H538.6" stroke="#000" stroke-width="1.5"/>
<path d="M531.9 893V896M531.9 910.6V913.6M521.6 903.3H524.6M539.2 903.3H542.2" stroke="#fff" stroke-width="0.7"/>
<!-- 60_tools.py -->
<path d="M338.4 1083.1L349.4 1086.9" stroke="#000" stroke-width="3.4" stroke-linecap="round" stroke-dasharray="1.4 1.2"/>
<path d="M338.3 1083.1L349.3 1086.9" stroke="#000" stroke-width="2.9" stroke-linecap="round"/>
<path d="M349.6 1086.4L357 1088.3M349.4 1087.8L356.6 1089.6" stroke="#000" stroke-width="1"/>
<path d="M357.7 1084.4L370.6 1080.6L378.7 1083.6L382.6 1081.9L394.1 1084.9L399.3 1082.7L444.3 1094.7L443.4 1104.1L447.3 1113.6L447.4 1127.6L455.1 1176.3L460.6 1176.3L460.1 1210L440.7 1216.1L414.1 1210L414.7 1176.3L425.2 1171.3L430.2 1170.2L419.7 1137.5L416.4 1136.7L416 1117.6L387 1110.4L386.4 1108.6L377.9 1107L374.9 1103.3L364.6 1101.6L359 1095.6L356.4 1089.6Z" fill="#fff" stroke="none"/>
<path d="M357.7 1084.4L370.6 1080.6M357.7 1084.4Q355.6 1089 359 1095.6L364.6 1101.6M364.3 1083Q360.4 1092 364.6 1101.6M370.6 1080.6L378.7 1083.6M364.6 1101.6L374.9 1103.3M376.6 1085.6Q371 1095.5 377.9 1106.8M378.7 1083.6L382.6 1081.9L394.1 1084.9M377.9 1107L386 1108.2M386.4 1089.3V1108.4L387.2 1109.6M386.4 1089.3L392 1086.6L399.3 1082.7L444.3 1094.7M398.4 1084.8L436.2 1095.2M392 1087L429.6 1098.4M386.4 1096L425.9 1105.9M386.8 1109.4L425.9 1118.4M388 1111.2L415.6 1118M431.6 1097.2Q426 1101 426.2 1106L425.9 1118.4M429.6 1098.4L436.2 1095.2L443.2 1096.6M444.3 1094.7L443.4 1104.1L447.3 1113.6L447.4 1127.6M429.4 1100L431 1111L432 1118.4M431 1111L443.4 1107.2M432 1118.4L446.4 1114.4M425.9 1118.4L432 1118.4M416 1117.4L416.4 1136.7L419.9 1137.6L430.2 1170.2M417.3 1125.6L430.6 1129.9L434.4 1126.4L429 1118.6M420.7 1128.2L421.6 1133.3L440 1135.4L432.4 1119.4M419.7 1125V1137.5M423 1138.6L433.5 1173M434.6 1135L439.6 1176.3M440 1135.4L450.7 1176.3M447.4 1127.6L455.1 1176.3M444.8 1116L445.6 1130.7L453 1176M414.7 1176.3L425.2 1171.3L430.2 1170.2L431.3 1173L426.9 1176.3L440.2 1179.1L447.4 1179.6L450.7 1176.3M414.7 1176.3L414.1 1210L440.7 1216.1L460.1 1210L460.6 1176.3L455.1 1176.3M414.7 1176.3L440.2 1181.8L460.6 1176.3M415.8 1178.2L439.6 1183.6M442.9 1182.6L460 1178M440.2 1181.8L440.7 1216.1M442.9 1182.4L442.9 1215.2M414.6 1207.8L440.7 1213.9L460.1 1208.4" stroke="#000" fill="none" stroke-linejoin="round" stroke-linecap="round" stroke-width="1.75"/>
<path d="M285.1 1130.8L290.6 1127.2L317.2 1127.4C323 1126.6 328 1125.2 332.4 1122.9L334.4 1124.4L333.6 1126.9L355.6 1126.9L355.6 1125.2L357.8 1125.2L357.8 1144.2L355.6 1144.2L355.6 1141.9L333.4 1141.9L334.6 1144.4L332.8 1146.2C329 1144.2 326 1142.8 323 1142.2L290.6 1142.2L285.1 1138.6Z" fill="#000" stroke="#000" stroke-width="0.9" stroke-linejoin="round"/>
<path d="M286.2 1132.9L290 1129.9L290 1132.9ZM286.2 1136L290 1136L290 1139.2ZM292 1129H295.4V1133.1H293.4V1130.6H292ZM292 1136.2H295.4V1140.6H292ZM297.4 1129.2L301.59999999999997 1129.2L301.59999999999997 1132.6ZM297.4 1137L297.4 1140.2L301.79999999999995 1140.4ZM303.09999999999997 1128.5H304.9V1131.2H303.09999999999997ZM303.09999999999997 1138.5H304.9V1140.9H303.09999999999997ZM307.3 1129.2L311.5 1129.2L311.5 1132.6ZM307.3 1137L307.3 1140.2L311.7 1140.4ZM313.0 1128.5H314.8V1131.2H313.0ZM313.0 1138.5H314.8V1140.9H313.0ZM316.9 1129.2L321.09999999999997 1129.2L321.09999999999997 1132.6ZM316.9 1137L316.9 1140.2L321.29999999999995 1140.4ZM322.59999999999997 1128.5H324.4V1131.2H322.59999999999997ZM322.59999999999997 1138.5H324.4V1140.9H322.59999999999997ZM326.2 1130.2H331V1132.2H326.2ZM326.2 1137.5H331V1139.7H326.2ZM332.2 1130H334.9V1140.5H332.2ZM350.8 1131L355 1130.6V1138.6L350.8 1138.2ZM336.8 1128.5H340V1129.5H336.8ZM336.8 1139.6H340V1140.6H336.8ZM348.1 1131H349V1138H348.1Z" fill="#fff"/>
<path d="M339.4 1132.4Q337.4 1134.7 339.4 1137M343.4 1132.4Q341.4 1134.7 343.4 1137M346.6 1132.6Q345 1134.7 346.6 1136.8" stroke="#bbb" stroke-width="1" fill="none"/>
<text x="323.7" y="1162.9" font-size="13.4" font-weight="bold" font-family="Liberation Sans, sans-serif" fill="#000" stroke="#000" stroke-width="0.35" textLength="12.2" lengthAdjust="spacingAndGlyphs">x2</text>
<path d="M282.6 1171.2L288.4 1169.4L363.4 1177.9L367.5 1176.5L367 1185.4L363 1184.6L288 1176.2L286.6 1175Z" fill="#000" stroke="#000" stroke-width="0.8" stroke-linejoin="round"/>
<path d="M289 1172.6L362.4 1181.1" stroke="#000" stroke-width="7.8" stroke-dasharray="1.7 1.15"/>
<path d="M289 1172.7L362.4 1181.2" stroke="#000" stroke-width="5.4"/>
<path d="M290 1172.8L361 1181" stroke="#fff" stroke-width="3.4" stroke-dasharray="0.7 2.5" opacity="0.55"/>
<path d="M364 1179.2L366.5 1178.2L366.1 1184L363.7 1183.4Z" fill="#fff"/>
<path d="M284.4 1171.4L287.2 1170.8L286.4 1172.4Z" fill="#fff"/>
</svg>
</body></html>
